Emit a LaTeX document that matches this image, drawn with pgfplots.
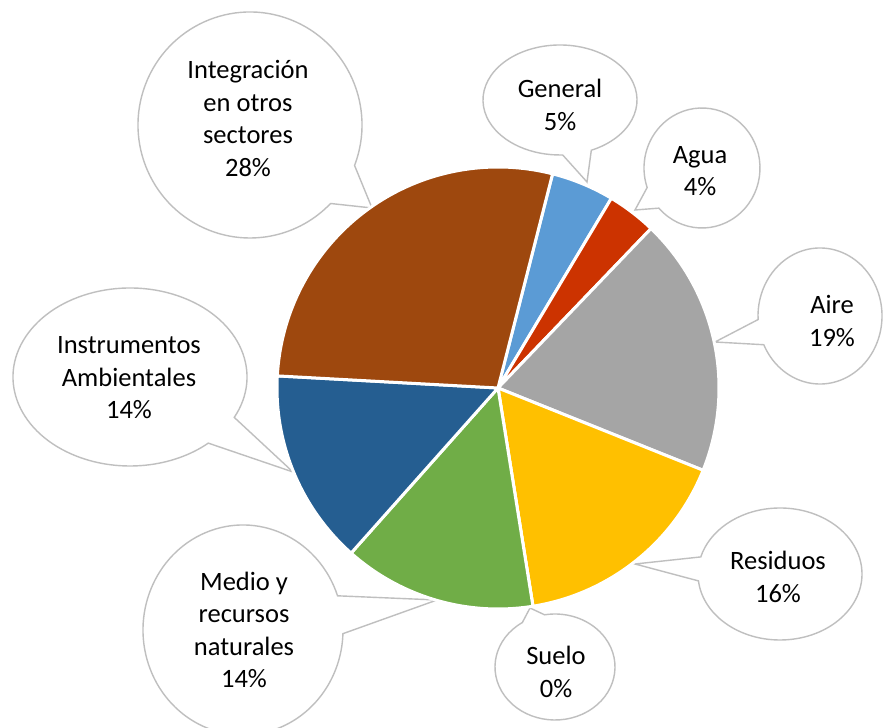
\documentclass[border=0pt]{standalone}
\usepackage{pgfplots}
\pgfplotsset{compat=1.18}
\usepackage{pgfplotstable}
\usepackage{fontspec}
\setmainfont{Carlito}

\definecolor{cInt}{HTML}{9E480E}
\definecolor{cGen}{HTML}{5B9BD5}
\definecolor{cAgua}{HTML}{CC3300}
\definecolor{cAire}{HTML}{A5A5A5}
\definecolor{cRes}{HTML}{FFC000}
\definecolor{cSuelo}{HTML}{4472C4}
\definecolor{cMedio}{HTML}{70AD47}
\definecolor{cInst}{HTML}{255E91}
\definecolor{cBorder}{HTML}{BFBFBF}

% share of each sector (percent), clockwise from General
\pgfplotstableread{
idx value color
0 4.6 cGen
1 3.6 cAgua
2 18.9 cAire
3 16.4 cRes
4 0.0 cSuelo
5 14.1 cMedio
6 14.3 cInst
7 28.1 cInt
}\piedata

\def\pieacc{75.7}
\pgfplotsforeachungrouped \i in {0,...,7}{%
  \pgfplotstablegetelem{\i}{value}\of\piedata
  \pgfmathsetmacro\piev{\pgfplotsretval}%
  \pgfmathsetmacro\pienext{\pieacc-3.6*\piev}%
  \expandafter\xdef\csname pieS\i\endcsname{\pieacc}%
  \expandafter\xdef\csname pieE\i\endcsname{\pienext}%
  \pgfplotstablegetelem{\i}{color}\of\piedata
  \expandafter\xdef\csname pieC\i\endcsname{\pgfplotsretval}%
  \xdef\pieacc{\pienext}%
}

% callout: cx, cy (from top), rx, ry, t1, t2, tipx, tipy (from top)
\newcommand\callout[8]{%
  \filldraw[fill=white, draw=cBorder, line width=1.4pt, line join=miter]
   (axis cs:{#1+#3*cos(#5)},{728-#2+#4*sin(#5)})
   arc[start angle=#5, end angle=#6, x radius=#3pt, y radius=#4pt]
   -- (axis cs:#7,{728-#8}) -- cycle;
}
\newcommand\lbl[3]{%
  \node[align=center, inner sep=0pt, font=\fontsize{26.5}{32.5}\selectfont]
    at (axis cs:#1,{728-#2}) {#3};
}

\begin{document}
\begin{tikzpicture}
\useasboundingbox (0,0) rectangle (895pt,728pt);
\clip (0,0) rectangle (895pt,728pt);
\begin{axis}[
  at={(0,0)}, anchor=south west,
  scale only axis, width=895pt, height=728pt,
  xmin=0, xmax=895, ymin=0, ymax=728,
  hide axis, clip=true,
]
\fill[white] (axis cs:0,0) rectangle (axis cs:895,728);

\callout{250}{125}{112}{113}{-21}{316}{372}{208}
\callout{560}{100}{77}{55}{-66}{272}{587}{182}
\callout{702}{168}{58}{60}{222}{559}{635}{210}
\callout{820}{316}{62}{68}{205}{543}{715}{342}
\callout{780}{574}{82}{66}{186}{525}{635}{564}
\callout{555}{667}{60}{53}{123}{460}{530}{608}
\callout{243}{630}{100}{105}{19}{358}{437}{600}
\callout{130}{377}{117}{89}{-27}{312}{293}{472}

\pgfplotsinvokeforeach{0,...,7}{%
  \edef\tmp{\noexpand\fill[fill=\csname pieC#1\endcsname, draw=white, line width=3pt, line join=round]
    (axis cs:498,340) -- ++(\csname pieS#1\endcsname:221pt)
    arc[start angle=\csname pieS#1\endcsname, end angle=\csname pieE#1\endcsname, radius=221pt] -- cycle;}%
  \tmp
}

\lbl{248}{118.5}{Integración\\en otros\\sectores\\28\%}
\lbl{560}{105}{General\\5\%}
\lbl{700}{171}{Agua\\4\%}
\lbl{832}{321}{Aire\\19\%}
\lbl{778}{577}{Residuos\\16\%}
\lbl{556}{672}{Suelo\\0\%}
\lbl{244}{630}{Medio y\\recursos\\naturales\\14\%}
\lbl{129}{378}{Instrumentos\\Ambientales\\14\%}
\end{axis}
\end{tikzpicture}
\end{document}
